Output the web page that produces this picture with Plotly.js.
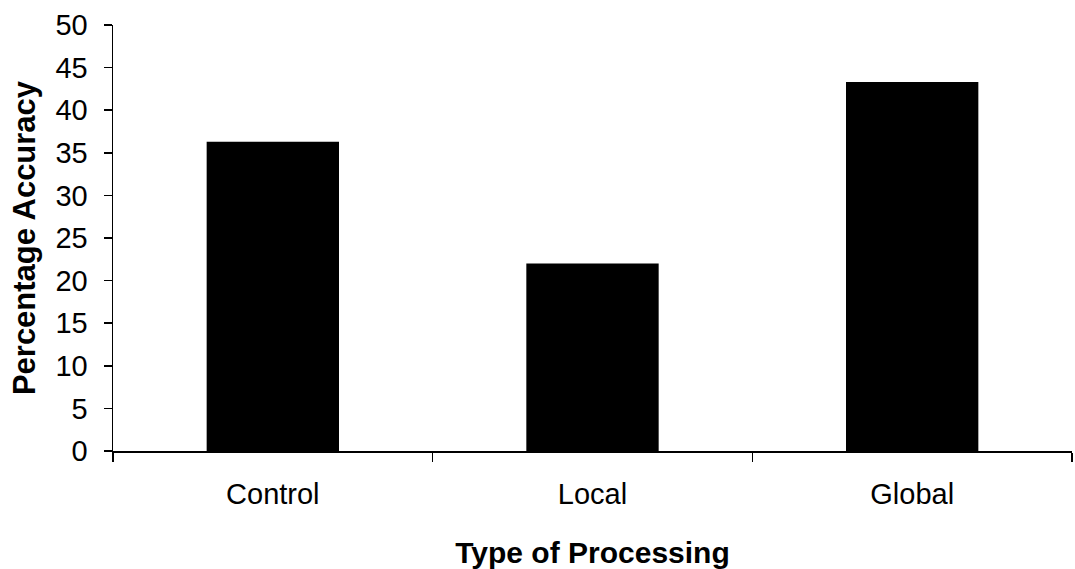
<!DOCTYPE html>
<html>
<head>
<meta charset="utf-8">
<script src="https://cdn.plot.ly/plotly-3.0.1.min.js"></script>
<style>html,body{margin:0;padding:0;background:#fff;}#chart{width:1075px;height:569px;}</style>
</head>
<body>
<div id="chart"></div>
<script>
const categories = ["Control", "Local", "Global"];
const accuracy = [36.3, 22.0, 43.3];
const yTickValues = [0, 5, 10, 15, 20, 25, 30, 35, 40, 45, 50];

const trace = {
  type: "bar",
  x: categories,
  y: accuracy,
  marker: { color: "#000000", line: { width: 0 } },
  hoverinfo: "x+y"
};

const layout = {
  width: 1075,
  height: 569,
  margin: { l: 113, r: 3, t: 25, b: 118 },
  paper_bgcolor: "#ffffff",
  plot_bgcolor: "#ffffff",
  showlegend: false,
  bargap: 0.586,
  font: { family: "Liberation Sans, Arial, sans-serif", color: "#000000" },
  xaxis: {
    type: "category",
    range: [-0.5, 2.5],
    showline: true,
    linecolor: "#000000",
    linewidth: 1.5,
    ticks: "outside",
    tickson: "boundaries",
    ticklen: 9,
    tickwidth: 1.5,
    tickcolor: "#000000",
    ticklabelstandoff: 17,
    tickfont: { size: 29, family: "Liberation Sans, Arial, sans-serif", color: "#000000" },
    showgrid: false,
    zeroline: false,
    automargin: false,
    title: { text: "<b>Type of Processing</b>", font: { size: 30, family: "Liberation Sans, Arial, sans-serif", color: "#000000" }, standoff: 32 }
  },
  yaxis: {
    range: [0, 50],
    tickvals: yTickValues,
    showline: true,
    linecolor: "#000000",
    linewidth: 1.5,
    ticks: "outside",
    ticklen: 8,
    tickwidth: 1.5,
    tickcolor: "#000000",
    ticklabelstandoff: 10,
    tickfont: { size: 29, family: "Liberation Sans, Arial, sans-serif", color: "#000000" },
    showgrid: false,
    zeroline: false,
    automargin: false,
    title: { text: "<b>Percentage Accuracy</b>", font: { size: 31, family: "Liberation Sans, Arial, sans-serif", color: "#000000" }, standoff: 10 }
  }
};

Plotly.newPlot("chart", [trace], layout, { displayModeBar: false, staticPlot: true });
</script>
</body>
</html>
